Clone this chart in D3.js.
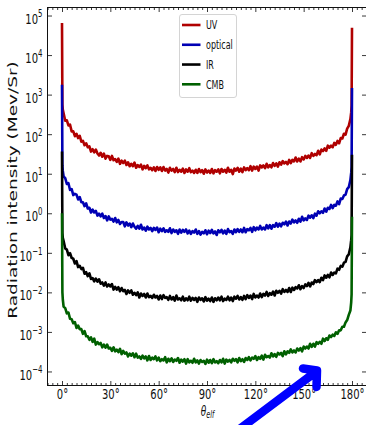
<!DOCTYPE html>
<html>
<head>
<meta charset="utf-8">
<script src="https://cdn.jsdelivr.net/npm/d3@7"></script>
<style>
  html, body { margin: 0; padding: 0; background: #fff; }
  svg { display: block; }
</style>
</head>
<body>
<svg id="chart" width="366" height="425"></svg>
<script>
// Emission angle grid (degrees): finer sampling at both ends where the spikes sit
const angles = [0, 0.25, 0.5].concat(d3.range(1, 180), [179.5, 179.75, 180]);

const seriesNames = ["UV", "optical", "IR", "CMB"];

// log10 of radiation intensity (Mev/Sr) for each band, one value per angle above
const uvLog = [4.81, 2.75, 2.62,
  2.53,2.34,2.35,2.22,2.24,2.07,2.07,1.95,2.01,1.90,
  1.96,1.81,1.83,1.72,1.77,1.67,1.69,1.56,1.62,1.54,
  1.61,1.51,1.46,1.53,1.43,1.51,1.38,1.45,1.44,1.35,
  1.45,1.34,1.37,1.30,1.38,1.25,1.33,1.27,1.33,1.22,
  1.29,1.19,1.25,1.19,1.28,1.15,1.22,1.17,1.23,1.11,
  1.20,1.14,1.21,1.11,1.15,1.09,1.16,1.07,1.17,1.10,
  1.16,1.07,1.17,1.08,1.12,1.03,1.15,1.08,1.12,1.04,
  1.15,1.04,1.10,1.05,1.13,1.02,1.11,1.05,1.14,1.04,
  1.08,1.02,1.10,1.02,1.12,1.04,1.09,1.00,1.11,1.03,
  1.08,1.02,1.12,1.01,1.09,1.05,1.11,1.01,1.12,1.05,
  1.10,1.03,1.15,1.05,1.10,0.99,1.13,1.08,1.15,1.05,
  1.13,1.04,1.16,1.09,1.14,1.09,1.19,1.08,1.18,1.12,
  1.18,1.08,1.21,1.16,1.21,1.14,1.25,1.16,1.22,1.16,
  1.27,1.20,1.26,1.18,1.29,1.23,1.32,1.26,1.30,1.24,
  1.35,1.27,1.35,1.31,1.41,1.31,1.38,1.31,1.42,1.36,
  1.45,1.40,1.46,1.40,1.52,1.45,1.50,1.47,1.58,1.49,
  1.61,1.57,1.64,1.58,1.71,1.66,1.71,1.67,1.78,1.73,
  1.83,1.77,1.90,1.89,2.01,1.99,2.14,2.21,2.38,
  2.55, 2.72, 4.69];

const opticalLog = [3.25, 1.21, 1.07,
  0.93,0.89,0.74,0.76,0.59,0.61,0.46,0.49,0.47,0.35,
  0.41,0.28,0.28,0.18,0.25,0.12,0.14,0.02,0.09,0.02,
  0.06,-0.06,-0.01,-0.08,-0.01,-0.12,-0.07,-0.18,-0.08,-0.16,
  -0.14,-0.21,-0.12,-0.23,-0.17,-0.27,-0.22,-0.22,-0.33,-0.23,
  -0.31,-0.26,-0.35,-0.26,-0.34,-0.39,-0.32,-0.39,-0.29,-0.41,
  -0.36,-0.44,-0.34,-0.41,-0.37,-0.45,-0.37,-0.42,-0.36,-0.48,
  -0.39,-0.45,-0.38,-0.47,-0.43,-0.47,-0.38,-0.50,-0.41,-0.47,
  -0.43,-0.52,-0.41,-0.49,-0.42,-0.47,-0.41,-0.51,-0.44,-0.52,
  -0.45,-0.49,-0.41,-0.52,-0.45,-0.54,-0.47,-0.51,-0.43,-0.53,
  -0.44,-0.50,-0.42,-0.51,-0.46,-0.55,-0.43,-0.48,-0.42,-0.51,
  -0.44,-0.52,-0.40,-0.48,-0.45,-0.52,-0.41,-0.48,-0.40,-0.47,
  -0.41,-0.48,-0.37,-0.48,-0.40,-0.43,-0.37,-0.47,-0.35,-0.43,
  -0.36,-0.41,-0.32,-0.41,-0.36,-0.41,-0.30,-0.38,-0.30,-0.39,
  -0.30,-0.34,-0.25,-0.34,-0.26,-0.33,-0.24,-0.28,-0.21,-0.31,
  -0.21,-0.26,-0.16,-0.23,-0.18,-0.24,-0.14,-0.21,-0.09,-0.18,
  -0.13,-0.17,-0.06,-0.11,-0.05,-0.12,-0.01,-0.06,0.05,0.00,
  0.05,0.01,0.12,0.04,0.14,0.11,0.21,0.13,0.21,0.19,
  0.30,0.23,0.37,0.36,0.45,0.47,0.61,0.66,0.84,
  1.02, 1.17, 3.17];

const irLog = [1.56, -0.50, -0.62,
  -0.70,-0.89,-0.92,-1.06,-1.01,-1.13,-1.15,-1.27,-1.21,-1.36,
  -1.33,-1.41,-1.38,-1.53,-1.49,-1.59,-1.52,-1.66,-1.64,-1.72,
  -1.65,-1.73,-1.67,-1.78,-1.75,-1.83,-1.75,-1.85,-1.80,-1.85,
  -1.79,-1.93,-1.86,-1.93,-1.87,-1.97,-1.89,-1.97,-1.94,-2.04,
  -1.95,-2.01,-1.95,-2.06,-2.01,-2.07,-2.00,-2.13,-2.03,-2.09,
  -2.04,-2.13,-2.03,-2.12,-2.09,-2.14,-2.06,-2.13,-2.09,-2.18,
  -2.08,-2.17,-2.07,-2.14,-2.12,-2.19,-2.09,-2.18,-2.12,-2.21,
  -2.08,-2.18,-2.15,-2.20,-2.11,-2.21,-2.15,-2.20,-2.11,-2.21,
  -2.14,-2.19,-2.14,-2.24,-2.13,-2.19,-2.15,-2.23,-2.12,-2.21,
  -2.16,-2.22,-2.13,-2.24,-2.15,-2.20,-2.13,-2.20,-2.11,-2.22,
  -2.16,-2.19,-2.11,-2.20,-2.13,-2.22,-2.11,-2.16,-2.09,-2.18,
  -2.12,-2.19,-2.09,-2.17,-2.07,-2.14,-2.08,-2.17,-2.04,-2.13,
  -2.08,-2.13,-2.03,-2.12,-2.04,-2.08,-1.99,-2.09,-2.02,-2.06,
  -1.98,-2.08,-1.96,-2.01,-1.96,-2.03,-1.92,-1.99,-1.94,-1.99,
  -1.89,-1.99,-1.88,-1.94,-1.87,-1.90,-1.82,-1.92,-1.84,-1.89,
  -1.80,-1.84,-1.76,-1.85,-1.75,-1.79,-1.69,-1.74,-1.69,-1.74,
  -1.63,-1.69,-1.57,-1.63,-1.56,-1.62,-1.50,-1.56,-1.50,-1.52,
  -1.40,-1.43,-1.33,-1.35,-1.25,-1.23,-1.09,-1.04,-0.86,
  -0.68, -0.55, 1.48];

const cmbLog = [0.00, -2.00, -2.18,
  -2.36,-2.40,-2.53,-2.51,-2.67,-2.68,-2.78,-2.75,-2.90,-2.84,
  -2.93,-2.93,-3.05,-2.98,-3.11,-3.11,-3.20,-3.14,-3.25,-3.17,
  -3.32,-3.26,-3.31,-3.28,-3.39,-3.32,-3.40,-3.32,-3.42,-3.40,
  -3.48,-3.39,-3.49,-3.45,-3.51,-3.43,-3.56,-3.48,-3.55,-3.52,
  -3.62,-3.55,-3.60,-3.54,-3.64,-3.55,-3.65,-3.62,-3.68,-3.60,
  -3.67,-3.62,-3.72,-3.61,-3.71,-3.65,-3.69,-3.62,-3.72,-3.65,
  -3.74,-3.69,-3.72,-3.64,-3.77,-3.68,-3.74,-3.67,-3.76,-3.70,
  -3.73,-3.66,-3.78,-3.70,-3.75,-3.69,-3.80,-3.69,-3.77,-3.73,
  -3.78,-3.68,-3.77,-3.72,-3.80,-3.71,-3.76,-3.73,-3.81,-3.70,
  -3.78,-3.71,-3.79,-3.69,-3.77,-3.74,-3.79,-3.71,-3.77,-3.68,
  -3.80,-3.70,-3.75,-3.71,-3.77,-3.68,-3.73,-3.69,-3.77,-3.66,
  -3.74,-3.69,-3.76,-3.66,-3.71,-3.64,-3.72,-3.65,-3.68,-3.61,
  -3.71,-3.64,-3.68,-3.60,-3.70,-3.58,-3.64,-3.61,-3.65,-3.54,
  -3.62,-3.56,-3.63,-3.53,-3.57,-3.53,-3.61,-3.49,-3.57,-3.49,
  -3.53,-3.44,-3.52,-3.47,-3.52,-3.42,-3.47,-3.41,-3.49,-3.37,
  -3.42,-3.37,-3.42,-3.30,-3.38,-3.30,-3.37,-3.26,-3.30,-3.25,
  -3.30,-3.17,-3.23,-3.16,-3.20,-3.09,-3.13,-3.07,-3.10,-3.01,
  -3.05,-2.96,-2.96,-2.87,-2.87,-2.76,-2.70,-2.57,-2.46,
  -2.25, -2.05, -0.09];

// Axis ticks
const xMajorTicks = [0, 30, 60, 90, 120, 150, 180];
const xMinorTicks = d3.range(-9, 190, 3).filter(d => d % 30 !== 0);
const yTickExponents = [-4, -3, -2, -1, 0, 1, 2, 3, 4, 5];

const seriesLogs = [uvLog, opticalLog, irLog, cmbLog];

// ---------------------------------------------------------------------------
const svg = d3.select("#chart");
const plotLeft = 47.5, plotRight = 366.5, plotTop = 7.5, plotBottom = 385.5;
const STRETCH = 1.48;            // vertical stretch applied to all lettering
const FONT = "'DejaVu Sans', sans-serif";

const x = d3.scaleLinear().domain([-9, 189]).range([plotLeft, plotRight]);
const y = d3.scaleLog()
  .domain([Math.pow(10, -4.355), Math.pow(10, 5.203)])
  .range([plotBottom, plotTop]);

const color = d3.scaleOrdinal()
  .domain(seriesNames)
  .range(["#b00000", "#0000b4", "#000000", "#006000"]);

svg.append("rect").attr("width", 366).attr("height", 425).attr("fill", "#fff");

svg.append("defs").append("clipPath").attr("id", "plot-clip")
  .append("rect")
  .attr("x", plotLeft).attr("y", plotTop)
  .attr("width", plotRight - plotLeft).attr("height", plotBottom - plotTop);

// Curves
const line = d3.line()
  .x((d, i) => x(angles[i]))
  .y(d => y(Math.pow(10, d)));

svg.append("g").attr("clip-path", "url(#plot-clip)")
  .selectAll("path.series")
  .data(seriesNames)
  .join("path")
  .attr("class", "series")
  .attr("fill", "none")
  .attr("stroke", d => color(d))
  .attr("stroke-width", 2.6)
  .attr("stroke-linejoin", "round")
  .attr("d", (d, i) => line(seriesLogs[i]));

// Axes: ticks point inward on all four sides
function styleAxis(g) {
  g.select(".domain").remove();
  g.selectAll(".tick line").attr("stroke", "#222").attr("stroke-width", 0.9);
}

const xBottom = svg.append("g").attr("transform", `translate(0,${plotBottom})`)
  .call(d3.axisBottom(x).tickValues(xMajorTicks).tickSize(-4.5).tickFormat(d => d + "°"))
  .call(styleAxis);
xBottom.selectAll(".tick text")
  .attr("y", 0).attr("dy", null)
  .attr("transform", `translate(0,13.3) scale(1,${STRETCH})`)
  .attr("font-family", FONT).attr("font-size", 10).attr("fill", "#111")
  .attr("text-anchor", "middle");

svg.append("g").attr("transform", `translate(0,${plotBottom})`)
  .call(d3.axisBottom(x).tickValues(xMinorTicks).tickSize(-2.5).tickFormat(""))
  .call(styleAxis);

svg.append("g").attr("transform", `translate(0,${plotTop})`)
  .call(d3.axisTop(x).tickValues(xMajorTicks).tickSize(-4.5).tickFormat(""))
  .call(styleAxis);
svg.append("g").attr("transform", `translate(0,${plotTop})`)
  .call(d3.axisTop(x).tickValues(xMinorTicks).tickSize(-2.5).tickFormat(""))
  .call(styleAxis);

const yVals = yTickExponents.map(e => Math.pow(10, e));
const yLeft = svg.append("g").attr("transform", `translate(${plotLeft},0)`)
  .call(d3.axisLeft(y).tickValues(yVals).tickSize(-4.5).tickFormat(""))
  .call(styleAxis);
yLeft.selectAll(".tick text").each(function (d) {
  const e = Math.round(Math.log10(d));
  const t = d3.select(this)
    .attr("x", 0).attr("y", 0).attr("dy", null)
    .attr("transform", `translate(-5,7.6) scale(1,${STRETCH})`)
    .attr("font-family", FONT).attr("font-size", 10).attr("fill", "#111")
    .attr("text-anchor", "end");
  t.text(null);
  t.append("tspan").text("10");
  t.append("tspan").attr("dy", -4.3).attr("font-size", 7)
    .text(e < 0 ? "\u2212" + Math.abs(e) : String(e));
});

svg.append("g").attr("transform", `translate(${plotRight},0)`)
  .call(d3.axisRight(y).tickValues(yVals).tickSize(-4.5).tickFormat(""))
  .call(styleAxis);

// Frame
svg.append("rect")
  .attr("x", plotLeft).attr("y", plotTop)
  .attr("width", plotRight - plotLeft).attr("height", plotBottom - plotTop)
  .attr("fill", "none").attr("stroke", "#111").attr("stroke-width", 1);

// Axis titles
const xTitle = svg.append("text")
  .attr("transform", `translate(207.5,415.5) scale(1,${STRETCH})`)
  .attr("text-anchor", "middle")
  .attr("font-family", FONT).attr("font-style", "italic").attr("fill", "#111");
xTitle.append("tspan").attr("font-size", 9).text("θ");
xTitle.append("tspan").attr("font-size", 6.5).attr("dy", 1.5).text("elf");

svg.append("text")
  .attr("transform", `translate(17,190) scale(1,${STRETCH}) rotate(-90)`)
  .attr("text-anchor", "middle")
  .attr("font-family", FONT).attr("font-size", 12.5).attr("fill", "#111")
  .text("Radiation intensity (Mev/Sr)");

// Legend
const legend = svg.append("g");
legend.append("rect")
  .attr("x", 179.5).attr("y", 14.5).attr("width", 57).attr("height", 83)
  .attr("rx", 2.5)
  .attr("fill", "#fff").attr("fill-opacity", 0.85)
  .attr("stroke", "#d4d4d4").attr("stroke-width", 1);
const rowY = d3.scalePoint().domain(seriesNames).range([25, 84.3]);
const entries = legend.selectAll("g.entry").data(seriesNames).join("g")
  .attr("class", "entry")
  .attr("transform", d => `translate(0,${rowY(d)})`);
entries.append("line")
  .attr("x1", 182).attr("x2", 200.5).attr("y1", 0).attr("y2", 0)
  .attr("stroke", d => color(d)).attr("stroke-width", 2.6);
entries.append("text")
  .attr("transform", `translate(206,4.3) scale(1,${STRETCH})`)
  .attr("font-family", FONT).attr("font-size", 8).attr("fill", "#111")
  .text(d => d);

// Pointer arrow in the lower right
svg.append("path")
  .attr("d", "M229,437 L317,371 M303,368.5 L317,370.5 L316.5,387")
  .attr("fill", "none")
  .attr("stroke", "#0000ff")
  .attr("stroke-width", 8.5)
  .attr("stroke-linecap", "round")
  .attr("stroke-linejoin", "round");
</script>
</body>
</html>
